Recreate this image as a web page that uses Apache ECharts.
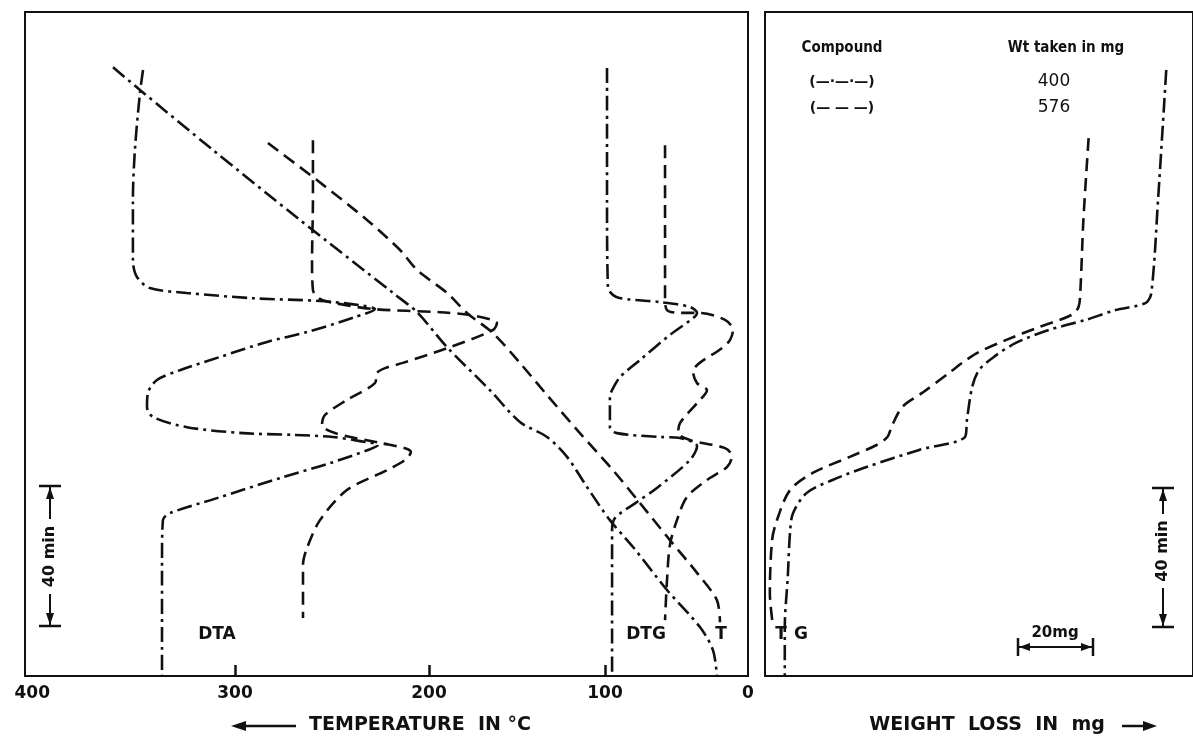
<!DOCTYPE html>
<html>
<head>
<meta charset="utf-8">
<script src="https://cdn.jsdelivr.net/npm/echarts@6/dist/echarts.min.js"></script>
<style>
html,body{margin:0;padding:0;background:#fff;}
#c{width:1193px;height:738px;}
</style>
</head>
<body>
<div id="c"></div>
<script>
// ---- tick labels (temperature axis, positions) ----
const tempTickLabels = ['400', '300', '200', '100', '0'];
const tempTickPos = [396, 283.8, 176.5, 79.1, 0];
const tempTickMarks = [283.8, 176.5, 79.1];

// ---- curves: [temperature-axis position, time in min] ----
const dtaA = [[334.7,173.4],[336.4,166.8],[339.2,150.5],[340.3,136.2],[340.3,119.0],[338.1,114.2],[330.9,111.0],[310.4,109.6],[273.9,108.1],[236.8,107.3],[214.7,106.1],[206.4,105.0],[217.4,102.7],[244.0,98.4],[266.1,95.6],[292.1,91.3],[314.3,87.5],[327.0,84.7],[332.0,81.0],[332.5,77.0],[329.2,74.1],[310.4,71.2],[279.4,69.5],[251.8,69.0],[229.6,68.4],[214.7,67.2],[204.7,66.1],[209.1,64.9],[231.3,60.9],[257.3,56.9],[293.8,50.9],[319.8,46.6],[323.7,44.6],[324.2,33.2],[324.2,0]];
const dtaB = [[240.7,153.3],[240.7,136.2],[241.2,119.0],[240.7,110.4],[236.8,107.9],[228.5,106.7],[207.5,105.0],[170.4,104.1],[153.8,103.3],[142.8,102.1],[138.9,101.0],[141.1,99.0],[166.5,93.8],[190.9,89.6],[200.8,88.1],[205.3,86.7],[206.4,83.8],[221.9,79.0],[234.0,74.7],[235.7,71.8],[228.5,69.5],[203.6,66.7],[189.8,65.2],[186.5,64.1],[189.8,61.8],[199.7,58.9],[221.9,53.2],[236.8,44.6],[244.0,36.6],[246.2,31.8],[246.2,16.6]];
const tA = [[351.3,174.2],[336.4,167.7],[296.0,150.5],[247.9,130.5],[196.4,109.6],[183.1,104.1],[166.5,94.1],[142.8,81.8],[126.2,72.7],[111.2,68.4],[100.1,62.7],[89.1,54.1],[76.4,44.6],[63.6,36.9],[44.8,24.6],[26.6,14.0],[19.4,7.4],[17.2,0]];
const tB = [[265.6,152.5],[238.5,141.9],[210.8,130.5],[192.5,121.9],[183.1,116.2],[166.5,109.6],[155.5,103.9],[141.1,98.1],[126.2,89.6],[111.2,80.4],[93.0,69.5],[74.7,58.9],[59.8,49.5],[43.2,38.9],[28.2,29.5],[17.2,21.7],[15.5,15.4]];
const dtgA = [[78.0,174.0],[78.0,136.2],[77.5,111.3],[72.5,108.4],[48.7,107.0],[32.1,105.6],[28.2,103.9],[30.4,102.4],[43.2,97.6],[59.8,90.4],[70.8,85.5],[75.2,81.8],[76.4,79.8],[76.4,71.2],[72.5,69.5],[48.7,68.4],[37.6,68.1],[28.2,65.8],[32.1,61.8],[50.4,53.8],[61.4,49.8],[73.6,45.2],[75.2,41.8],[75.2,1.1]];
const dtgB = [[45.9,151.9],[45.9,136.2],[45.9,108.1],[44.8,104.7],[37.6,103.9],[26.6,103.9],[12.7,101.9],[8.3,99.0],[10.0,96.1],[13.8,94.1],[30.4,87.0],[28.2,83.8],[22.7,81.8],[28.2,78.1],[37.6,72.4],[38.7,69.5],[32.1,67.5],[12.7,65.2],[8.9,62.9],[11.6,59.8],[22.7,56.1],[33.8,51.2],[39.3,44.6],[43.2,37.5],[44.8,27.5],[45.9,16.0]];

// ---- TG curves: [weight loss in mg, time in min] ----
const tgA = [[107.5,173.4],[105.3,136.2],[103.5,109.6],[101.9,106.7],[93.9,104.7],[85.9,101.9],[76.0,99.0],[67.2,95.3],[61.3,91.3],[57.3,87.5],[55.5,82.7],[54.1,73.2],[53.6,68.4],[41.3,64.7],[27.2,59.8],[18.1,56.1],[11.2,52.4],[7.5,46.6],[6.7,40.9],[6.1,28.3],[5.3,14.0],[5.3,0]];
const tgB = [[86.7,153.9],[85.3,130.5],[84.5,110.4],[84.0,105.6],[82.1,103.3],[73.3,99.8],[64.5,96.1],[57.3,92.7],[52.8,89.6],[49.3,86.7],[42.1,81.0],[36.8,77.0],[34.1,71.8],[32.8,68.4],[29.9,66.1],[22.7,62.7],[12.8,58.1],[6.7,53.2],[3.2,44.6],[1.9,38.9],[1.3,23.7],[2.1,14.6]];

// ---- legend ----
const compounds = ['(—·—·—)', '(— — —)'];
const weights = ['400', '576'];

const INK = '#111';
const dashDot = {color: INK, width: 2.6, type: [15, 5, 3, 5]};
const dash = {color: INK, width: 2.6, type: [13, 7]};
const FONT = 'DejaVu Sans';

function curve(name, data, style, gi) {
  return {
    name, type: 'line', data, xAxisIndex: gi, yAxisIndex: gi,
    showSymbol: false, symbol: 'none', smooth: 0.3, lineStyle: style,
    silent: true, animation: false, z: 3
  };
}

const chart = echarts.init(document.getElementById('c'), null, {renderer: 'canvas'});

const txt = (text, x, y, size, opts) => Object.assign({
  type: 'text', x, y,
  style: Object.assign({text, font: 'bold ' + size + 'px ' + FONT, fill: INK, textAlign: 'center', textVerticalAlign: 'middle'}, (opts && opts.style) || {})
}, opts && opts.rotation ? {rotation: opts.rotation} : {});
const seg = (x1, y1, x2, y2, w) => ({type: 'line', shape: {x1, y1, x2, y2}, style: {stroke: INK, lineWidth: w || 2}});
const tri = (pts) => ({type: 'polygon', shape: {points: pts}, style: {fill: INK}});

function vScale(x, yTop, yBot, gapTop, gapBot) {
  return [
    seg(x - 11, yTop, x + 11, yTop, 2.5), seg(x - 11, yBot, x + 11, yBot, 2.5),
    seg(x, yTop, x, gapTop), seg(x, gapBot, x, yBot),
    tri([[x, yTop + 1], [x - 4, yTop + 13], [x + 4, yTop + 13]]),
    tri([[x, yBot - 1], [x - 4, yBot - 13], [x + 4, yBot - 13]]),
    txt('40 min', x, (gapTop + gapBot) / 2, 16, {rotation: Math.PI / 2})
  ];
}

const graphics = [].concat(
  vScale(50, 486, 626, 519, 594),
  vScale(1163, 488, 627, 514, 588),
  [
    // 20 mg bar
    seg(1018, 647, 1093, 647), seg(1018, 638, 1018, 656, 2.5), seg(1093, 638, 1093, 656, 2.5),
    tri([[1019, 647], [1030, 643], [1030, 651]]), tri([[1092, 647], [1081, 643], [1081, 651]]),
    txt('20mg', 1055, 633, 15),
    // curve labels
    txt('DTA', 217, 635, 17), txt('DTG', 646, 635, 17), txt('T', 721, 635, 17),
    txt('T', 781, 635, 17), txt('G', 801, 635, 17),
    // legend
    txt('Compound', 842, 48, 15, {style: {font: 'bold 15px "DejaVu Sans Condensed", ' + FONT}}),
    txt('Wt taken in mg', 1066, 48, 15, {style: {font: 'bold 15px "DejaVu Sans Condensed", ' + FONT}}),
    txt(compounds[0], 842, 82, 14, {style: {font: 'bold 14px ' + FONT}}),
    txt(compounds[1], 842, 108, 14, {style: {font: 'bold 14px ' + FONT}}),
    txt(weights[0], 1054, 82, 17, {style: {font: '17px ' + FONT}}),
    txt(weights[1], 1054, 108, 17, {style: {font: '17px ' + FONT}}),
    // axis titles
    seg(242, 726, 296, 726, 2.5), tri([[231, 726], [246, 721], [246, 731]]),
    txt('TEMPERATURE  IN °C', 420, 725, 19, {style: {font: 'bold 19px ' + FONT}}),
    txt('WEIGHT  LOSS  IN  mg', 987, 725, 19, {style: {font: 'bold 19px ' + FONT}}),
    seg(1122, 726, 1146, 726, 2.5), tri([[1157, 726], [1143, 721], [1143, 731]])
  ]
);

const option = {
  backgroundColor: '#fff',
  animation: false,
  grid: [
    {left: 25, top: 12, width: 723, height: 664, show: true, borderColor: INK, borderWidth: 2, backgroundColor: 'transparent'},
    {left: 765, top: 12, width: 430, height: 664, show: true, borderColor: INK, borderWidth: 2, backgroundColor: 'transparent'}
  ],
  xAxis: [
    {
      type: 'value', gridIndex: 0, min: 0, max: 400, inverse: true,
      axisLine: {show: false}, splitLine: {show: false},
      axisTick: {show: true, inside: true, length: 11, customValues: tempTickMarks, lineStyle: {color: INK, width: 2.5}},
      axisLabel: {
        show: true, customValues: tempTickPos, margin: 9, color: INK,
        fontFamily: FONT, fontWeight: 'bold', fontSize: 17,
        formatter: v => {
          let best = 0;
          tempTickPos.forEach((p, i) => { if (Math.abs(p - v) < Math.abs(tempTickPos[best] - v)) best = i; });
          return tempTickLabels[best];
        }
      }
    },
    {
      type: 'value', gridIndex: 1, min: 0, max: 430 / 3.75,
      axisLine: {show: false}, axisTick: {show: false}, axisLabel: {show: false}, splitLine: {show: false}
    }
  ],
  yAxis: [
    {type: 'value', gridIndex: 0, min: 0, max: 190, axisLine: {show: false}, axisTick: {show: false}, axisLabel: {show: false}, splitLine: {show: false}},
    {type: 'value', gridIndex: 1, min: 0, max: 190, axisLine: {show: false}, axisTick: {show: false}, axisLabel: {show: false}, splitLine: {show: false}}
  ],
  series: [
    curve('DTA 400 mg', dtaA, dashDot, 0),
    curve('DTA 576 mg', dtaB, dash, 0),
    curve('T 400 mg', tA, dashDot, 0),
    curve('T 576 mg', tB, dash, 0),
    curve('DTG 400 mg', dtgA, dashDot, 0),
    curve('DTG 576 mg', dtgB, dash, 0),
    curve('TG 400 mg', tgA, dashDot, 1),
    curve('TG 576 mg', tgB, dash, 1)
  ],
  graphic: graphics
};
chart.setOption(option);
</script>
</body>
</html>
